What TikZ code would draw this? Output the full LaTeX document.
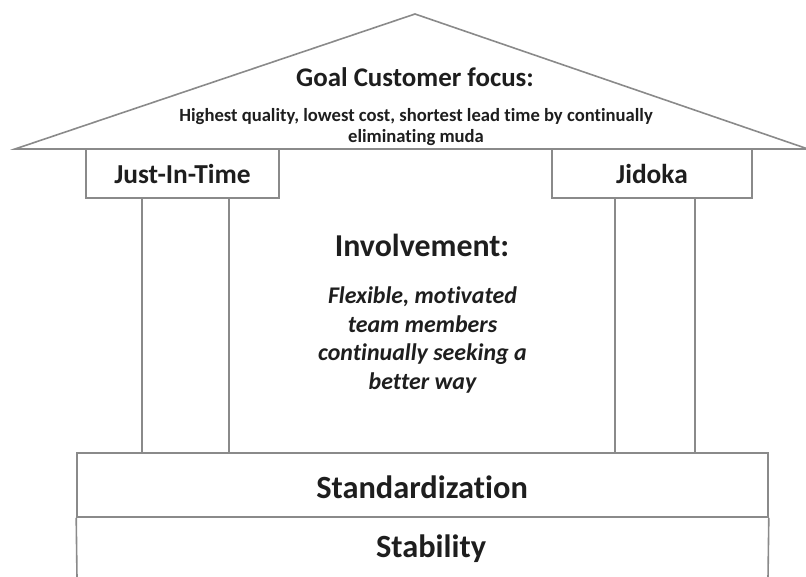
\documentclass[tikz,border=0pt]{standalone}
\usepackage{fontspec}
\setmainfont[Ligatures=NoCommon]{Carlito}
\definecolor{linegray}{HTML}{8A8A8A}
\definecolor{textdark}{HTML}{1E1E1E}
\tikzset{
  edge/.style={draw=linegray, line width=1.6bp},
  boxnode/.style={edge, rectangle, inner sep=0pt, text=textdark, font=\bfseries\fontsize{27.5}{30}\selectfont},
  lbl/.style={inner sep=0pt, text=textdark, align=center},
}
\begin{document}
\begin{tikzpicture}[x=1bp, y=-1bp]
\useasboundingbox (0,0) rectangle (806,577);
% roof
\coordinate (roofL) at (15,149);
\coordinate (roofT) at (415,14);
\coordinate (roofR) at (808,149);
\draw[edge, line join=miter] (roofL) -- (roofT) -- (roofR) -- cycle;
\node[lbl, font=\bfseries\fontsize{27}{30}\selectfont] (goal) at (415,77) {Goal Customer focus:};
\node[lbl, font=\bfseries\fontsize{18.7}{21.5}\selectfont] (goaltext) at (416,127) {Highest quality, lowest cost, shortest lead time by continually\\eliminating muda};
% capitals
\node[boxnode, minimum width=193bp, minimum height=49bp] (jit) at (182.5,173.5) {Just-In-Time};
\node[boxnode, minimum width=200bp, minimum height=49bp] (jid) at (652,173.5) {Jidoka};
% base
\node[boxnode, minimum width=691bp, minimum height=64bp] (std) at (422.5,485) {};
\node[lbl, font=\bfseries\fontsize{32.5}{35}\selectfont] (stdtext) at (422,487) {Standardization};
\coordinate (stabL) at (77,578);
\coordinate (stabR) at (768,578);
\draw[edge] (std.south west) -- (stabL);
\draw[edge] (std.south east) -- (stabR);
\node[lbl, font=\bfseries\fontsize{32.5}{35}\selectfont] (stab) at (431,549) {Stability};
% pillars
\draw[edge] ([xshift=57bp]jit.south west) -- ([xshift=57bp]jit.south west |- std.north);
\draw[edge] ([xshift=144bp]jit.south west) -- ([xshift=144bp]jit.south west |- std.north);
\draw[edge] ([xshift=64bp]jid.south west) -- ([xshift=64bp]jid.south west |- std.north);
\draw[edge] ([xshift=144bp]jid.south west) -- ([xshift=144bp]jid.south west |- std.north);
% involvement
\node[lbl, font=\bfseries\fontsize{32}{35}\selectfont] (inv) at (422,245) {Involvement:};
\node[lbl, font=\bfseries\itshape\fontsize{24}{28.7}\selectfont] (invtext) at (422.5,340) {Flexible, motivated\\team members\\continually seeking a\\better way};
\end{tikzpicture}
\end{document}
